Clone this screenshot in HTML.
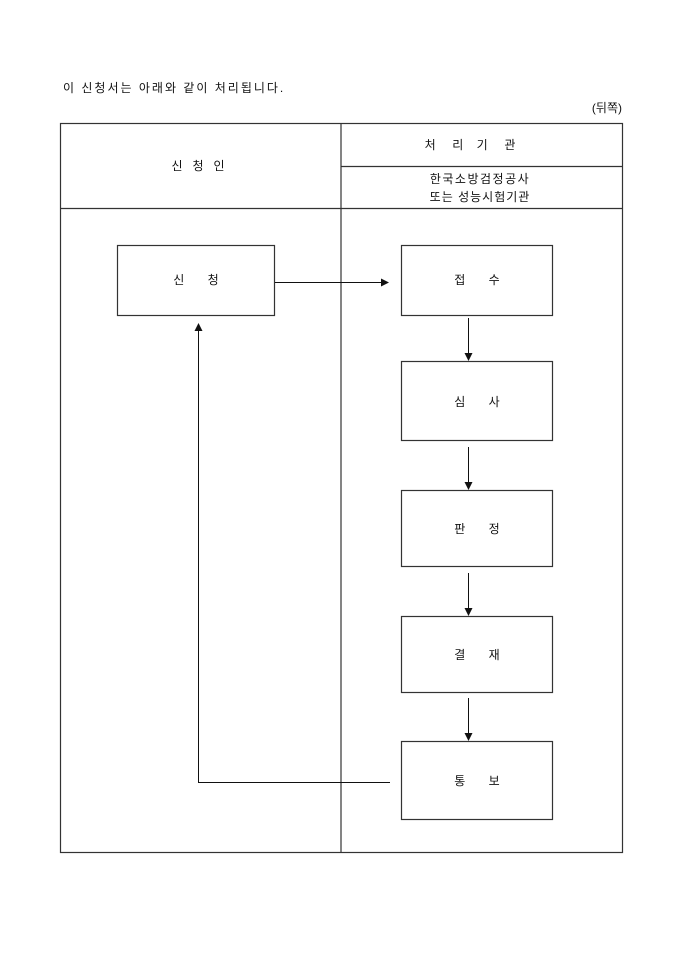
<!DOCTYPE html>
<html><head><meta charset="utf-8"><style>
html,body{margin:0;padding:0;background:#fff}
svg{display:block}
text{font-family:"Liberation Sans","Noto Sans CJK KR","NanumGothic",sans-serif;font-size:12px;fill:#111}
</style></head><body>
<svg width="680" height="962" viewBox="0 0 680 962" xmlns="http://www.w3.org/2000/svg">
<defs><marker id="a" markerWidth="8" markerHeight="8" refX="7" refY="4" orient="auto" markerUnits="userSpaceOnUse"><path d="M0,0 L8,4 L0,8 z" fill="#111"/></marker></defs>
<text x="63" y="92" font-size="12.5" letter-spacing="2">이 신청서는 아래와 같이 처리됩니다.</text>
<text x="622" y="112" text-anchor="end">(뒤쪽)</text>
<g stroke="#333" stroke-width="1.2" fill="none">
<rect x="60.5" y="123.5" width="562" height="729"/>
<line x1="341" y1="123" x2="341" y2="853"/>
<line x1="60" y1="208.5" x2="623" y2="208.5"/>
<line x1="341" y1="166.5" x2="623" y2="166.5"/>
<rect x="117.5" y="245.5" width="157" height="70"/>
<rect x="401.5" y="245.5" width="151" height="70"/>
<rect x="401.5" y="361.5" width="151" height="79"/>
<rect x="401.5" y="490.5" width="151" height="76"/>
<rect x="401.5" y="616.5" width="151" height="76"/>
<rect x="401.5" y="741.5" width="151" height="78"/>
</g>
<g stroke="#111" stroke-width="1" fill="none" marker-end="url(#a)">
<line x1="275" y1="282.5" x2="388" y2="282.5"/>
<line x1="468.5" y1="318" x2="468.5" y2="360"/>
<line x1="468.5" y1="447" x2="468.5" y2="489"/>
<line x1="468.5" y1="573" x2="468.5" y2="615"/>
<line x1="468.5" y1="698" x2="468.5" y2="740"/>
<polyline points="390,782.5 198.5,782.5 198.5,324"/>
</g>
<text x="198" y="170" text-anchor="middle" xml:space="preserve">신   청   인</text>
<text x="470" y="149" text-anchor="middle" xml:space="preserve">처     리    기     관</text>
<text x="480" y="183" text-anchor="middle" letter-spacing="1.5">한국소방검정공사</text>
<text x="480" y="201" text-anchor="middle" letter-spacing="1">또는 성능시험기관</text>
<text x="196" y="284" text-anchor="middle" xml:space="preserve">신       청</text>
<text x="477" y="284" text-anchor="middle" xml:space="preserve">접       수</text>
<text x="477" y="406" text-anchor="middle" xml:space="preserve">심       사</text>
<text x="477" y="533" text-anchor="middle" xml:space="preserve">판       정</text>
<text x="477" y="659" text-anchor="middle" xml:space="preserve">결       재</text>
<text x="477" y="785" text-anchor="middle" xml:space="preserve">통       보</text>
</svg>
</body></html>
